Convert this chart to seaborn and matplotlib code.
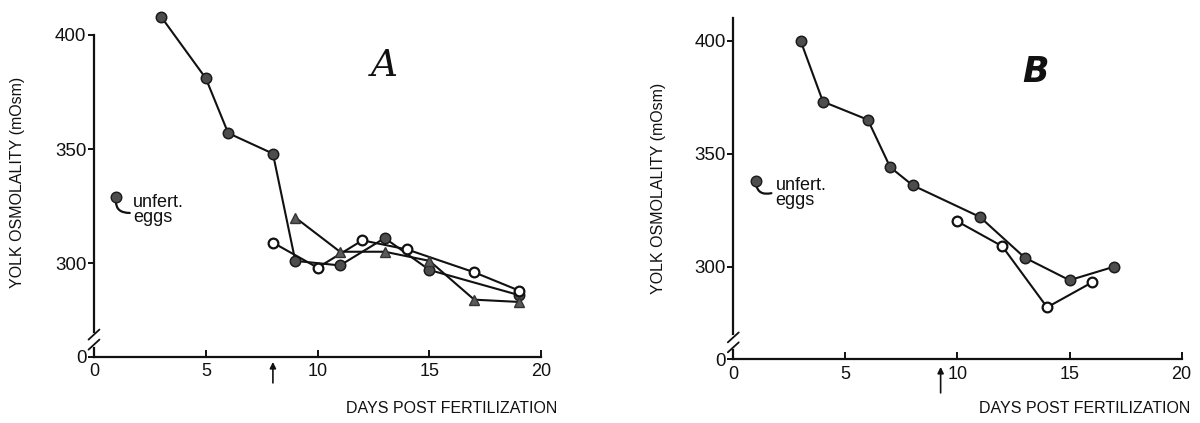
import numpy as np
import pandas as pd
import matplotlib
matplotlib.use("Agg")
import matplotlib.pyplot as plt
import seaborn as sns

# ---- Panel A: yolk osmolality (mOsm) by days post fertilization ----
a_fill_days = [3, 5, 6, 8, 9, 11, 13, 15, 19]
a_fill_osm = [408, 381, 357, 348, 301, 299, 311, 297, 286]
a_open_days = [8, 10, 12, 14, 17, 19]
a_open_osm = [309, 298, 310, 306, 296, 288]
a_tri_days = [9, 11, 13, 15, 17, 19]
a_tri_osm = [320, 305, 305, 301, 284, 283]
a_unfert_day, a_unfert_osm = 1, 329
a_arrow_day = 8

# ---- Panel B ----
b_fill_days = [3, 4, 6, 7, 8, 11, 13, 15, 17]
b_fill_osm = [400, 373, 365, 344, 336, 322, 304, 294, 300]
b_open_days = [10, 12, 14, 16]
b_open_osm = [320, 309, 282, 293]
b_unfert_day, b_unfert_osm = 1, 338
b_arrow_day = 9.25

x_ticks = [0, 5, 10, 15, 20]
y_ticks = [300, 350, 400]
y_floor = 259          # bottom of the broken y axis, labelled "0"
y_break = 266.5
y_top = 412

sns.set_theme(style="ticks")
plt.rcParams["font.family"] = ["Liberation Sans", "DejaVu Sans"]

FILL = "#4d4d4d"
INK = "#111111"

STYLES = {
    "filled": dict(marker="o", markersize=7.5, markerfacecolor=FILL,
                   markeredgecolor="#1a1a1a", markeredgewidth=1.1),
    "open": dict(marker="o", markersize=7, markerfacecolor="white",
                 markeredgecolor=INK, markeredgewidth=1.6),
    "triangle": dict(marker="^", markersize=7.5, markerfacecolor="#5a5a5a",
                     markeredgecolor="#333333", markeredgewidth=1.0),
}


def frame(days, osm, name):
    return pd.DataFrame({"day": days, "osm": osm, "series": name})


def draw_panel(ax, df, unfert, arrow_day, arrow_span, letter, letter_xy,
               letter_kw, spine_top, text_xy, hook_xy):
    for name, sub in df.groupby("series", sort=False):
        sns.lineplot(data=sub, x="day", y="osm", ax=ax, color=INK,
                     linewidth=1.5, errorbar=None, legend=False,
                     **STYLES[name])
    # unfertilized eggs reference point
    sns.scatterplot(x=[unfert[0]], y=[unfert[1]], ax=ax, s=58, color=FILL,
                    edgecolor="#1a1a1a", linewidth=1.0, legend=False, zorder=4)
    ax.text(text_xy[0], text_xy[1], "unfert.\neggs", fontsize=13,
            ha="left", va="center", linespacing=0.82, color=INK)
    ax.annotate("", xy=hook_xy, xytext=unfert,
                arrowprops=dict(arrowstyle="-", lw=1.6, color=INK,
                                connectionstyle="arc3,rad=0.6",
                                shrinkA=3, shrinkB=0))

    ax.set_xlim(0, 20.3)
    ax.set_ylim(y_floor, y_top)
    ax.set_xticks(x_ticks)
    ax.set_yticks([y_floor] + y_ticks)
    ax.set_yticklabels(["0"] + [str(t) for t in y_ticks])
    ax.set_xlabel("")
    ax.set_ylabel("")
    ax.tick_params(axis="x", direction="in", length=5, width=1.4, pad=4.5,
                   labelsize=13, colors=INK)
    ax.tick_params(axis="y", direction="out", length=4, width=1.4, pad=1.5,
                   labelsize=13.5, colors=INK)
    for s in ("top", "right"):
        ax.spines[s].set_visible(False)
    for s in ("left", "bottom"):
        ax.spines[s].set_linewidth(1.6)
        ax.spines[s].set_color(INK)
    ax.spines["left"].set_bounds(y_floor, spine_top)
    ax.spines["bottom"].set_bounds(0, 20)

    # break marks on the y axis
    yt = ax.get_yaxis_transform()
    ax.plot([0, 0], [y_break - 2.2, y_break + 2.2], color="white", lw=3,
            transform=yt, clip_on=False, zorder=5)
    for dy in (-2.2, 2.2):
        ax.plot([-0.012, 0.012], [y_break + dy - 2.2, y_break + dy + 2.2],
                color=INK, lw=1.3, transform=yt, clip_on=False, zorder=6)

    # arrow marking hatching day
    ax.annotate("", xy=(arrow_day, arrow_span[1]),
                xytext=(arrow_day, arrow_span[0]),
                xycoords=ax.get_xaxis_transform(),
                arrowprops=dict(arrowstyle="-|>", lw=1.2, color=INK,
                                mutation_scale=9, shrinkA=0, shrinkB=0),
                annotation_clip=False)

    ax.text(letter_xy[0], letter_xy[1], letter, ha="center", va="center",
            color=INK, **letter_kw)


W, H = 1200, 423
fig = plt.figure(figsize=(12, 4.23), dpi=100)

ax_a = fig.add_axes([94 / W, 1 - 356.7 / H, 454 / W, (356.7 - 7.6) / H])
ax_b = fig.add_axes([733.3 / W, 1 - 359.3 / H, 455 / W, (359.3 - 13.5) / H])

df_a = pd.concat([frame(a_fill_days, a_fill_osm, "filled"),
                  frame(a_open_days, a_open_osm, "open"),
                  frame(a_tri_days, a_tri_osm, "triangle")])
df_b = pd.concat([frame(b_fill_days, b_fill_osm, "filled"),
                  frame(b_open_days, b_open_osm, "open")])

draw_panel(ax_a, df_a, (a_unfert_day, a_unfert_osm), a_arrow_day,
           (-0.075, -0.015), "A", (13.0, 386.5),
           dict(fontsize=27, family="DejaVu Serif", style="italic"),
           400, (1.75, 323.2), (1.6, 322.0))
draw_panel(ax_b, df_b, (b_unfert_day, b_unfert_osm), b_arrow_day,
           (-0.097, -0.022), "B", (13.5, 386.0),
           dict(fontsize=25, family="DejaVu Sans", style="italic",
                weight="bold"),
           410, (1.88, 332.5), (1.7, 332.5))

# axis titles
for cx, cy in ((18, 182), (658, 188)):
    fig.text(cx / W, 1 - cy / H, "YOLK OSMOLALITY (mOsm)", rotation=90,
             ha="center", va="center", fontsize=11.5, color=INK)
for rx in (557, 1190):
    fig.text(rx / W, 1 - 408 / H, "DAYS POST FERTILIZATION", ha="right",
             va="center", fontsize=11.5, color=INK)

fig.savefig("out.png", dpi=100, facecolor="white")
